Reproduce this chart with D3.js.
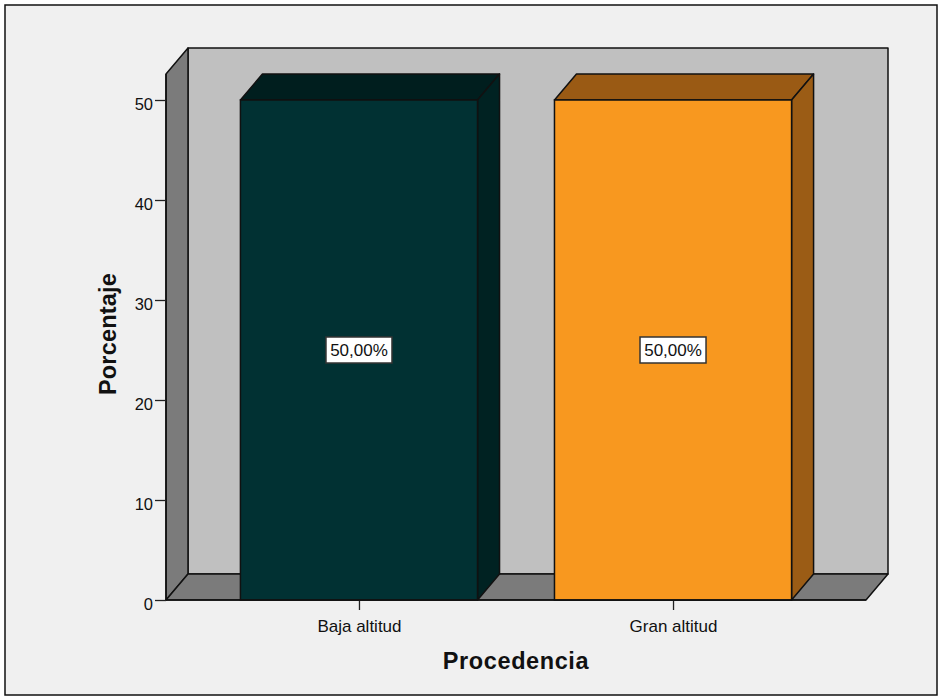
<!DOCTYPE html>
<html>
<head>
<meta charset="utf-8">
<script src="https://cdn.jsdelivr.net/npm/d3@7"></script>
<style>
  html, body { margin: 0; padding: 0; background: #ffffff; }
  svg { display: block; }
  text { font-family: "Liberation Sans", Arial, sans-serif; fill: #111; }
</style>
</head>
<body>
<svg id="chart" width="943" height="700"></svg>
<script>
// Data
const categories = ["Baja altitud", "Gran altitud"];
const percentages = [50, 50];
const valueLabels = ["50,00%", "50,00%"];
const yTicks = [0, 10, 20, 30, 40, 50];
const frontColors = ["#013133", "#f8981f"];
const topColors = ["#001e1e", "#9a5a14"];
const sideColors = ["#002222", "#9b5c15"];

const svg = d3.select("#chart");
const W = 943, H = 700;

// Frame
svg.append("rect").attr("x", 5).attr("y", 5).attr("width", 932).attr("height", 690)
  .attr("fill", "#f0f0f0").attr("stroke", "#111").attr("stroke-width", 1.5);

// Front plane of the 3D box
const x0 = 166, x1 = 866, yBase = 600, yTopFront = 74;
const dx = 22, dy = -26; // depth offset

const y = d3.scaleLinear().domain([0, 52.6]).range([yBase, yTopFront]);
const x = d3.scaleBand().domain(categories).range([x0, x1])
  .paddingInner(0.245).paddingOuter(0.237);

const stroke = "#111", sw = 1.5;
const poly = pts => "M" + pts.map(p => p.join(",")).join("L") + "Z";

// Back wall
svg.append("path")
  .attr("d", poly([[x0 + dx, yTopFront + dy], [x1 + dx, yTopFront + dy], [x1 + dx, yBase + dy], [x0 + dx, yBase + dy]]))
  .attr("fill", "#c0c0c0").attr("stroke", stroke).attr("stroke-width", sw).attr("stroke-linejoin", "round");

// Left wall
svg.append("path")
  .attr("d", poly([[x0, yTopFront], [x0 + dx, yTopFront + dy], [x0 + dx, yBase + dy], [x0, yBase]]))
  .attr("fill", "#7b7b7b").attr("stroke", stroke).attr("stroke-width", sw).attr("stroke-linejoin", "round");

// Floor
svg.append("path")
  .attr("d", poly([[x0, yBase], [x0 + dx, yBase + dy], [x1 + dx, yBase + dy], [x1, yBase]]))
  .attr("fill", "#7b7b7b").attr("stroke", stroke).attr("stroke-width", sw).attr("stroke-linejoin", "round");

// Bars
const bars = svg.append("g");
categories.forEach((c, i) => {
  const bx = x(c), bw = x.bandwidth(), by = y(percentages[i]), b0 = y(0);
  const g = bars.append("g");
  // top face
  g.append("path")
    .attr("d", poly([[bx, by], [bx + dx, by + dy], [bx + bw + dx, by + dy], [bx + bw, by]]))
    .attr("fill", topColors[i]).attr("stroke", stroke).attr("stroke-width", sw).attr("stroke-linejoin", "round");
  // side face
  g.append("path")
    .attr("d", poly([[bx + bw, by], [bx + bw + dx, by + dy], [bx + bw + dx, b0 + dy], [bx + bw, b0]]))
    .attr("fill", sideColors[i]).attr("stroke", stroke).attr("stroke-width", sw).attr("stroke-linejoin", "round");
  // front face
  g.append("rect")
    .attr("x", bx).attr("y", by).attr("width", bw).attr("height", b0 - by)
    .attr("fill", frontColors[i]).attr("stroke", stroke).attr("stroke-width", sw);
});

// Y axis
const yAxis = d3.axisLeft(y).tickValues(yTicks).tickSize(11).tickPadding(2).tickFormat(d3.format("d"));
const ya = svg.append("g").attr("transform", `translate(${x0},0)`).call(yAxis);
ya.select(".domain").attr("stroke", stroke).attr("stroke-width", sw)
  .attr("d", `M0,${yBase}V${yTopFront}`);
ya.selectAll(".tick line").attr("stroke", "#222").attr("stroke-width", 1.3);
ya.selectAll(".tick text").attr("font-size", 16.5).attr("dy", "0.6em")
  .attr("font-family", "'Liberation Sans', Arial, sans-serif").attr("fill", "#111");

// X axis
const xPoint = d3.scalePoint().domain(categories).range([x(categories[0]) + x.bandwidth() / 2, x(categories[1]) + x.bandwidth() / 2]);
const xAxis = d3.axisBottom(xPoint).tickSize(10).tickPadding(6);
const xa = svg.append("g").attr("transform", `translate(0,${yBase})`).call(xAxis);
xa.select(".domain").remove();
xa.selectAll(".tick line").attr("stroke", "#222").attr("stroke-width", 1.3);
xa.selectAll(".tick text").attr("font-size", 17).attr("dy", "0.95em")
  .attr("font-family", "'Liberation Sans', Arial, sans-serif").attr("fill", "#111");

// Front floor edge on top
svg.append("line").attr("x1", x0).attr("x2", x1).attr("y1", yBase).attr("y2", yBase)
  .attr("stroke", stroke).attr("stroke-width", sw);

// Value labels
categories.forEach((c, i) => {
  const cx = x(c) + x.bandwidth() / 2, cy = y(percentages[i] / 2);
  const g = svg.append("g").attr("transform", `translate(${cx},${cy})`);
  g.append("rect").attr("x", -33).attr("y", -13).attr("width", 66).attr("height", 26)
    .attr("fill", "#ffffff").attr("stroke", "#333").attr("stroke-width", 1.5);
  g.append("text").attr("text-anchor", "middle").attr("dy", "0.36em")
    .attr("font-size", 17).text(valueLabels[i]);
});

// Axis titles
svg.append("text").attr("x", 516).attr("y", 669).attr("text-anchor", "middle")
  .attr("font-size", 23.5).attr("font-weight", "bold").attr("letter-spacing", 0.6).text("Procedencia");
svg.append("text").attr("transform", "translate(116,334) rotate(-90)").attr("text-anchor", "middle")
  .attr("font-size", 23.5).attr("font-weight", "bold").attr("letter-spacing", 0.2).text("Porcentaje");
</script>
</body>
</html>
